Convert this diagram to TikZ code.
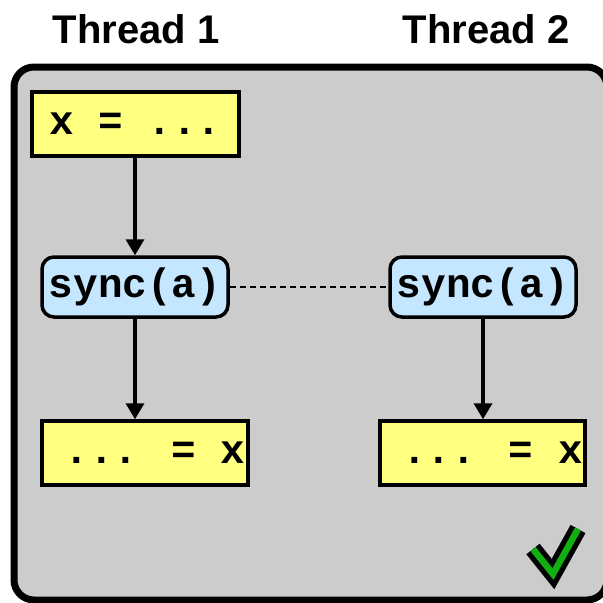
\documentclass[tikz,border=0pt]{standalone}
\usepackage{fontspec}
\setmainfont{Liberation Sans}
\newfontfamily\codefont{Liberation Mono}
\usetikzlibrary{arrows.meta}
\definecolor{panelgray}{HTML}{CCCCCC}
\definecolor{stmtyellow}{HTML}{FFFF80}
\definecolor{syncblue}{HTML}{C4E6FF}
\definecolor{okgreen}{HTML}{10B010}
\tikzset{
  stmt/.style={draw=black, line width=3.5pt, fill=stmtyellow, minimum width=206pt,
    minimum height=64pt, inner sep=0pt, font=\codefont\bfseries\fontsize{41}{44}\selectfont},
  syncbox/.style={draw=black, line width=3.5pt, fill=syncblue, rounded corners=12pt,
    minimum width=186pt, minimum height=60pt, inner sep=0pt,
    font=\codefont\bfseries\fontsize{41}{44}\selectfont},
  title/.style={font=\bfseries\fontsize{40}{44}\selectfont, anchor=base},
  flow/.style={line width=3.5pt, -{Triangle[length=16pt,width=18pt]}},
  syncline/.style={line width=1.6pt, dash pattern=on 6pt off 4pt}
}
\begin{document}
\begin{tikzpicture}[x=1pt,y=-1pt]
\useasboundingbox (0,0) rectangle (603,603);
% shared panel holding both threads
\draw[line width=7pt, fill=panelgray, rounded corners=20pt] (14,67) rectangle (607,600);
\node[title] (t1) at (136,43) {Thread 1};
\node[title] (t2) at (486,43) {Thread 2};
% thread 1
\node[stmt, minimum width=207pt] (w) at (135.5,124) {x = ...};
\node[syncbox] (s1) at (135,287) {sync(a)};
\node[stmt] (r1) at (145,453) {\hspace*{20pt}... = x};
% thread 2
\node[syncbox] (s2) at (483,287) {sync(a)};
\node[stmt, minimum width=205pt] (r2) at (482.5,453) {\hspace*{20pt}... = x};
% edges
\draw[flow] (w.south -| s1.north) -- (s1.north);
\draw[flow] (s1.south) -- (s1.south |- r1.north);
\draw[flow] (s2.south) -- (s2.south |- r2.north);
\draw[syncline] (s1.east) -- (s2.west);
% check mark
\coordinate (c1) at (533,549);
\coordinate (c2) at (553,574);
\coordinate (c3) at (578,529);
\draw[line width=17pt, line join=miter, black] (c1) -- (c2) -- (c3);
\draw[line width=6.5pt, line join=miter, okgreen] (c1) -- (c2) -- (c3);
\end{tikzpicture}
\end{document}
